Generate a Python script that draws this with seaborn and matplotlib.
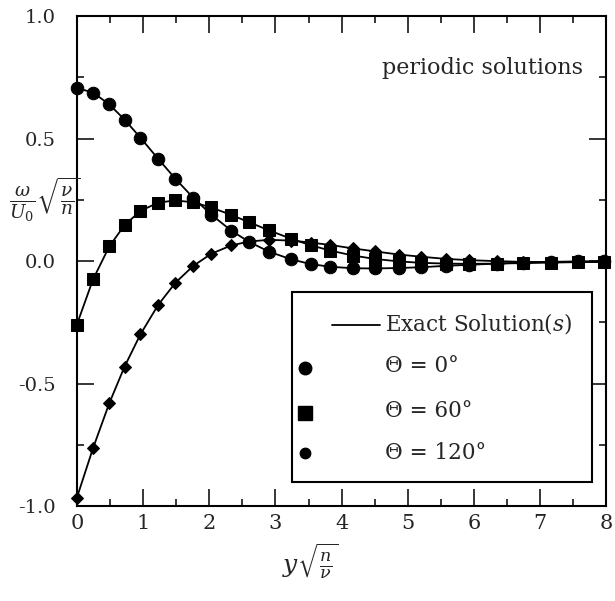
import matplotlib
matplotlib.use("Agg")
import matplotlib.pyplot as plt
import seaborn as sns
import pandas as pd
from matplotlib.patches import Rectangle
from matplotlib.ticker import MultipleLocator, FormatStrFormatter

# ---- data ----
eta = [0.0, 0.245, 0.49, 0.72, 0.96, 1.23, 1.49, 1.76, 2.03, 2.33, 2.6, 2.9, 3.23,
       3.53, 3.83, 4.17, 4.5, 4.86, 5.2, 5.58, 5.93, 6.34, 6.74, 7.16, 7.57, 7.96]
theta0 = [0.707, 0.688, 0.640, 0.578, 0.504, 0.417, 0.336, 0.258, 0.190, 0.125, 0.079,
          0.039, 0.008, -0.012, -0.023, -0.029, -0.030, -0.028, -0.025, -0.019, -0.015,
          -0.010, -0.006, -0.003, -0.001, 0.000]
theta60 = [-0.259, -0.074, 0.060, 0.147, 0.205, 0.239, 0.248, 0.240, 0.219, 0.189, 0.159,
           0.126, 0.092, 0.065, 0.043, 0.023, 0.009, -0.001, -0.007, -0.010, -0.011,
           -0.010, -0.008, -0.006, -0.004, -0.003]
theta120 = [-0.966, -0.763, -0.580, -0.431, -0.299, -0.178, -0.088, -0.019, 0.030, 0.064,
            0.080, 0.087, 0.084, 0.076, 0.066, 0.052, 0.040, 0.027, 0.018, 0.009, 0.004,
            0.000, -0.003, -0.004, -0.004, -0.003]
x_ticks = [0, 1, 2, 3, 4, 5, 6, 7, 8]
y_ticks = [-1.0, -0.5, 0.0, 0.5, 1.0]
legend_labels = ["Exact Solution($s$)", "Θ = 0°", "Θ = 60°", "Θ = 120°"]

sns.set_theme(style="ticks")
plt.rcParams["font.family"] = ["DejaVu Serif"]
plt.rcParams["mathtext.fontset"] = "dejavuserif"
plt.rcParams["axes.unicode_minus"] = False

fig = plt.figure(figsize=(6.15, 6.01), dpi=100)
ax = fig.add_axes([0.125, 0.158, 0.861, 0.815])

df = pd.DataFrame({"eta": eta, "t0": theta0, "t60": theta60, "t120": theta120})

series = [("t120", "D", 6.5), ("t60", "s", 8.0), ("t0", "o", 9.0)]
for col, mk, ms in series:
    sns.lineplot(data=df, x="eta", y=col, ax=ax, color="black", lw=1.3,
                 estimator=None, sort=False, marker=mk, markersize=ms,
                 markeredgecolor="black", markerfacecolor="black", clip_on=False)

ax.set_xlim(0, 8)
ax.set_ylim(-1.0, 1.0)
ax.set_xticks(x_ticks)
ax.set_yticks(y_ticks)
ax.xaxis.set_minor_locator(MultipleLocator(0.5))
ax.yaxis.set_minor_locator(MultipleLocator(0.25))
ax.yaxis.set_major_formatter(FormatStrFormatter("%.1f"))
ax.xaxis.set_major_formatter(FormatStrFormatter("%d"))

ax.tick_params(which="both", direction="in", top=True, right=True, width=1.1,
               color="black")
ax.tick_params(which="major", length=12)
ax.tick_params(which="minor", length=5)
ax.tick_params(axis="y", which="major", labelsize=14, pad=15)
ax.tick_params(axis="x", which="major", labelsize=15, pad=6)
for sp in ax.spines.values():
    sp.set_linewidth(1.5)
    sp.set_color("black")

ax.set_xlabel("")
ax.set_ylabel("")
ax.text(0.44, -0.112, r"$y\sqrt{\frac{n}{\nu}}$", transform=ax.transAxes,
        ha="center", va="center", fontsize=18)
ax.text(-0.06, 0.625, r"$\frac{\omega}{U_0}\sqrt{\frac{\nu}{n}}$", transform=ax.transAxes,
        ha="center", va="center", fontsize=19)

ax.text(0.955, 0.883, "periodic solutions", transform=ax.transAxes,
        ha="right", va="baseline", fontsize=16)

# ---- legend box ----
ax.add_patch(Rectangle((0.406, 0.049), 0.566, 0.387, transform=ax.transAxes,
                       facecolor="white", edgecolor="black", lw=1.5, zorder=5))
ax.plot([0.481, 0.573], [0.370, 0.370], transform=ax.transAxes, color="black",
        lw=1.3, zorder=6)
ax.plot([0.430], [0.282], transform=ax.transAxes, marker="o", ms=9, color="black",
        ls="none", zorder=6)
ax.plot([0.430], [0.190], transform=ax.transAxes, marker="s", ms=10, color="black",
        ls="none", zorder=6)
ax.plot([0.430], [0.108], transform=ax.transAxes, marker="o", ms=7.5, color="black",
        ls="none", zorder=6)
for lab, yy in zip(legend_labels, [0.372, 0.286, 0.194, 0.108]):
    ax.text(0.581, yy, lab, transform=ax.transAxes, ha="left", va="center",
            fontsize=15.5, zorder=7)

fig.savefig("out.png", dpi=100)
